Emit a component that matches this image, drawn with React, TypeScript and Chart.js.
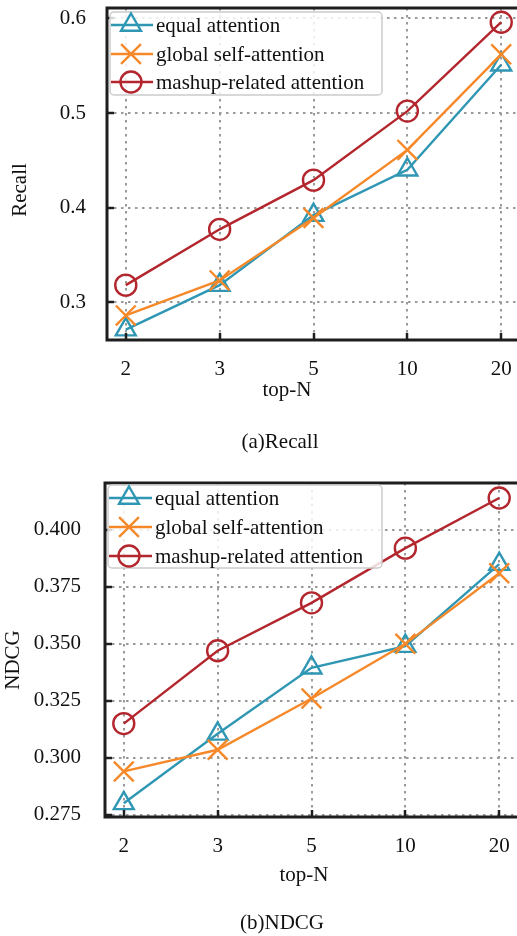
import React, { useEffect, useRef } from 'react';
import { Chart, registerables } from 'chart.js';

Chart.register(...registerables);

// ---------- data ----------
const categories = ['2', '3', '5', '10', '20'];
const seriesNames = ['equal attention', 'global self-attention', 'mashup-related attention'];

const recallEqual = [0.271, 0.318, 0.392, 0.44, 0.551];
const recallGlobal = [0.286, 0.323, 0.389, 0.461, 0.562];
const recallMashup = [0.318, 0.377, 0.429, 0.502, 0.596];
const recallTicks = [0.3, 0.4, 0.5, 0.6];

const ndcgEqual = [0.28, 0.3105, 0.3395, 0.349, 0.385];
const ndcgGlobal = [0.294, 0.3035, 0.326, 0.35, 0.381];
const ndcgMashup = [0.315, 0.347, 0.368, 0.392, 0.414];
const ndcgTicks = [0.275, 0.3, 0.325, 0.35, 0.375, 0.4];

// ---------- styles ----------
const FONT = "'Liberation Serif', 'Times New Roman', Times, serif";
const COLORS = ['#2f97b3', '#f5892a', '#b3262d'];
const STYLES = ['triangle', 'crossRot', 'circle'];
const RADII = [11.5, 14, 10.5];

const CW = 532;
const CH = 468;

type Spec = {
  values: number[][];
  ticks: number[];
  decimals: number;
  yMin: number;
  yMax: number;
  yTitle: string;
  caption: string;
  areaLeft: number;
  areaTop: number;
  areaBottom: number;
  yTitlePos: [number, number];
  xTitlePos: [number, number];
  captionPos: [number, number];
  legendBox: [number, number, number, number];
  legendRows: number[];
  legendLine: [number, number, number];
  legendTextX: number;
  yLabelPad: number;
};

function drawMarker(ctx: CanvasRenderingContext2D, style: string, x: number, y: number, r: number) {
  ctx.beginPath();
  if (style === 'triangle') {
    ctx.moveTo(x, y - r);
    ctx.lineTo(x + 0.866 * r, y + 0.5 * r);
    ctx.lineTo(x - 0.866 * r, y + 0.5 * r);
    ctx.closePath();
  } else if (style === 'crossRot') {
    const o = Math.cos(Math.PI / 4) * r;
    ctx.moveTo(x - o, y - o);
    ctx.lineTo(x + o, y + o);
    ctx.moveTo(x - o, y + o);
    ctx.lineTo(x + o, y - o);
  } else {
    ctx.arc(x, y, r, 0, Math.PI * 2);
  }
  ctx.stroke();
}

function makeDecor(spec: Spec) {
  return {
    id: 'decor',
    beforeDatasetsDraw(chart: any) {
      const ctx = chart.ctx as CanvasRenderingContext2D;
      const a = chart.chartArea;
      const xs = chart.scales.x;
      const ys = chart.scales.y;
      ctx.save();
      ctx.strokeStyle = '#9a9a9a';
      ctx.lineWidth = 2;
      ctx.setLineDash([2.5, 4.5]);
      categories.forEach((_, i) => {
        const px = Math.round(xs.getPixelForValue(i));
        ctx.beginPath();
        ctx.moveTo(px, a.top);
        ctx.lineTo(px, a.bottom);
        ctx.stroke();
      });
      spec.ticks.forEach((t) => {
        const py = Math.round(ys.getPixelForValue(t));
        ctx.beginPath();
        ctx.moveTo(a.left, py);
        ctx.lineTo(a.right, py);
        ctx.stroke();
      });
      ctx.restore();
    },
    afterDatasetsDraw(chart: any) {
      const ctx = chart.ctx as CanvasRenderingContext2D;
      const a = chart.chartArea;
      const xs = chart.scales.x;
      const ys = chart.scales.y;
      ctx.save();
      ctx.strokeStyle = '#1e1e1e';
      ctx.lineWidth = 2.5;
      // inward ticks
      categories.forEach((_, i) => {
        const px = Math.round(xs.getPixelForValue(i));
        ctx.beginPath();
        ctx.moveTo(px, a.bottom);
        ctx.lineTo(px, a.bottom - 7);
        ctx.stroke();
      });
      spec.ticks.forEach((t) => {
        const py = Math.round(ys.getPixelForValue(t));
        ctx.beginPath();
        ctx.moveTo(a.left, py);
        ctx.lineTo(a.left + 7, py);
        ctx.stroke();
      });
      // frame: left, top, bottom (right edge lies outside the page)
      ctx.lineWidth = 3;
      ctx.beginPath();
      ctx.moveTo(a.right + 2, a.top);
      ctx.lineTo(a.left, a.top);
      ctx.lineTo(a.left, a.bottom);
      ctx.lineTo(a.right + 2, a.bottom);
      ctx.stroke();
      ctx.restore();
    },
    afterDraw(chart: any) {
      const ctx = chart.ctx as CanvasRenderingContext2D;
      ctx.save();
      // legend
      const [bx, by, bw, bh] = spec.legendBox;
      ctx.fillStyle = 'rgba(255,255,255,0.82)';
      ctx.strokeStyle = '#cccccc';
      ctx.lineWidth = 1.5;
      ctx.beginPath();
      (ctx as any).roundRect(bx, by, bw, bh, 4);
      ctx.fill();
      ctx.stroke();
      const [lx0, lx1, mx] = spec.legendLine;
      seriesNames.forEach((name, i) => {
        const y = spec.legendRows[i];
        ctx.strokeStyle = COLORS[i];
        ctx.lineWidth = 2.4;
        ctx.beginPath();
        ctx.moveTo(lx0, y);
        ctx.lineTo(lx1, y);
        ctx.stroke();
        drawMarker(ctx, STYLES[i], mx, y, RADII[i]);
        ctx.fillStyle = '#111';
        ctx.font = `21px ${FONT}`;
        ctx.textAlign = 'left';
        ctx.textBaseline = 'middle';
        ctx.fillText(name, spec.legendTextX, y + 1);
      });
      // titles
      ctx.fillStyle = '#111';
      ctx.font = `21px ${FONT}`;
      ctx.textAlign = 'center';
      ctx.textBaseline = 'middle';
      ctx.fillText('top-N', spec.xTitlePos[0], spec.xTitlePos[1]);
      ctx.fillText(spec.caption, spec.captionPos[0], spec.captionPos[1]);
      ctx.save();
      ctx.translate(spec.yTitlePos[0], spec.yTitlePos[1]);
      ctx.rotate(-Math.PI / 2);
      ctx.fillText(spec.yTitle, 0, 0);
      ctx.restore();
      ctx.restore();
    },
  };
}

function zeroPad(s: any) {
  s.paddingTop = 0;
  s.paddingBottom = 0;
  s.paddingLeft = 0;
  s.paddingRight = 0;
}

function buildConfig(spec: Spec): any {
  const order = [3, 2, 1];
  return {
    type: 'line',
    data: {
      datasets: spec.values.map((vals, i) => ({
        label: seriesNames[i],
        data: vals.map((v, j) => ({ x: j, y: v })),
        borderColor: COLORS[i],
        backgroundColor: 'rgba(0,0,0,0)',
        borderWidth: 2.4,
        pointStyle: STYLES[i],
        pointRadius: RADII[i],
        pointBorderWidth: 2.4,
        pointBorderColor: COLORS[i],
        pointBackgroundColor: 'rgba(0,0,0,0)',
        tension: 0,
        clip: false,
        order: order[i],
      })),
    },
    options: {
      animation: false,
      responsive: false,
      devicePixelRatio: 1,
      layout: { autoPadding: false, padding: { top: spec.areaTop, left: 0, right: CW - (spec.areaLeft + 413), bottom: 0 } },
      plugins: { legend: { display: false }, tooltip: { enabled: false }, title: { display: false } },
      scales: {
        x: {
          type: 'linear',
          min: -0.2,
          max: 4.2,
          grid: { display: false, drawTicks: false },
          border: { display: false },
          afterBuildTicks: (s: any) => {
            s.ticks = categories.map((_, i) => ({ value: i }));
          },
          afterFit: (s: any) => {
            s.height = CH - spec.areaBottom;
            zeroPad(s);
          },
          ticks: {
            autoSkip: false,
            maxRotation: 0,
            padding: 17,
            color: '#111',
            font: { family: FONT, size: 21 },
            callback: (v: number) => categories[v] ?? '',
          },
        },
        y: {
          type: 'linear',
          min: spec.yMin,
          max: spec.yMax,
          grid: { display: false, drawTicks: false },
          border: { display: false },
          afterBuildTicks: (s: any) => {
            s.ticks = spec.ticks.map((t) => ({ value: t }));
          },
          afterFit: (s: any) => {
            s.width = spec.areaLeft;
            zeroPad(s);
          },
          ticks: {
            padding: spec.yLabelPad,
            color: '#111',
            font: { family: FONT, size: 21 },
            callback: (v: number) => Number(v).toFixed(spec.decimals),
          },
        },
      },
    },
    plugins: [makeDecor(spec)],
  };
}

const recallSpec: Spec = {
  values: [recallEqual, recallGlobal, recallMashup],
  ticks: recallTicks,
  decimals: 1,
  yMin: 0.26,
  yMax: 0.611,
  yTitle: 'Recall',
  caption: '(a)Recall',
  areaLeft: 107,
  areaTop: 8,
  areaBottom: 340,
  yTitlePos: [20, 190],
  xTitlePos: [287, 390],
  captionPos: [280, 442],
  legendBox: [110, 12, 272, 83],
  legendRows: [25, 54, 82],
  legendLine: [111, 153, 131],
  legendTextX: 156,
  yLabelPad: 21,
};

const ndcgSpec: Spec = {
  values: [ndcgEqual, ndcgGlobal, ndcgMashup],
  ticks: ndcgTicks,
  decimals: 3,
  yMin: 0.274,
  yMax: 0.4206,
  yTitle: 'NDCG',
  caption: '(b)NDCG',
  areaLeft: 105,
  areaTop: 15,
  areaBottom: 349,
  yTitlePos: [13, 192],
  xTitlePos: [304, 407],
  captionPos: [282, 455],
  legendBox: [108, 17, 274, 83],
  legendRows: [30, 59, 88],
  legendLine: [109, 152, 129],
  legendTextX: 155,
  yLabelPad: 24,
};

function Panel({ spec, top }: { spec: Spec; top: number }) {
  const ref = useRef<HTMLCanvasElement | null>(null);
  useEffect(() => {
    if (!ref.current) return;
    const chart = new Chart(ref.current, buildConfig(spec));
    return () => chart.destroy();
  }, [spec]);
  return (
    <canvas
      ref={ref}
      width={CW}
      height={CH}
      style={{ position: 'absolute', left: 0, top, width: CW, height: CH, display: 'block' }}
    />
  );
}

export default function App() {
  return (
    <div
      style={{
        position: 'absolute',
        left: 0,
        top: 0,
        width: 517,
        height: 936,
        overflow: 'hidden',
        background: '#fff',
      }}
    >
      <Panel spec={recallSpec} top={0} />
      <Panel spec={ndcgSpec} top={468} />
    </div>
  );
}
